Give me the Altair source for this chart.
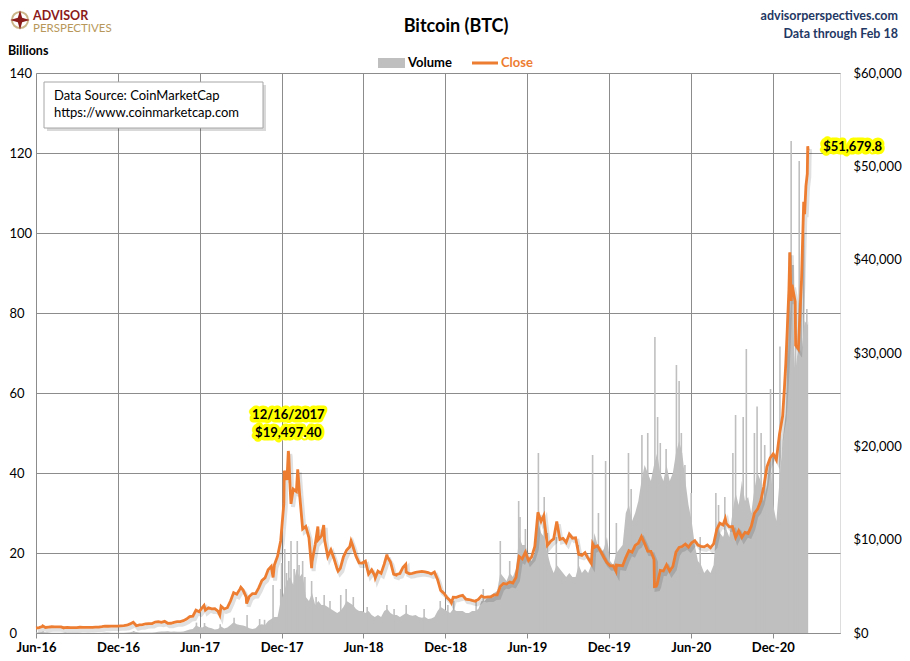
import altair as alt
import pandas as pd

# ---------------- data ----------------
# weekly closes (USD), one value per week starting 2016-06-01
close_2016 = [537, 582, 695, 595, 640, 670, 657, 665, 655, 567, 592, 574, 580, 574, 614, 610,
              597, 605, 612, 637, 630, 678, 742, 722, 744, 740, 742, 767, 780, 834, 975]
close_2017 = [1155, 778, 870, 894, 989, 1010, 1012, 1172, 1222, 1150, 1245, 1040, 1046, 1134, 1215,
              1217, 1317, 1487, 1756, 1806, 2446, 2286, 2719, 2442, 2707, 2585, 2608, 2331, 2871,
              2577, 2710, 3420, 4326, 4152, 4703, 4597, 3870, 3905, 4209, 4225, 4829, 5605, 5905,
              6767, 7144, 7315, 8232, 9888, 13860, 16408, 15561, 15416]
close_2018 = [15156, 14973, 11139, 11425, 10221, 7621, 9494, 10005, 10398, 9951, 8200, 8900, 7960,
              6853, 6926, 8159, 8864, 9243, 9325, 8230, 7505, 7495, 7688, 6315, 6770, 6134, 6619,
              6386, 7379, 8175, 7605, 6305, 6274, 6376, 7047, 6529, 6344, 6398, 6491, 6545, 6596,
              6544, 6478, 6318, 6525, 5738, 4565, 4278, 3790, 3486, 3836, 3822]
close_2019 = [3943, 4036, 3630, 3586, 3486, 3400, 3599, 3974, 3812, 3868, 3866, 4076, 4087, 4975,
              5307, 5237, 5464, 5351, 5950, 8205, 7950, 8660, 7772, 8158, 9273, 12932, 11961, 12100,
              9400, 9800, 10080, 11950, 10030, 10130, 9700, 10600, 10160, 10200, 8430, 8320, 8600,
              8000, 7470, 9180, 9340, 8760, 8120, 7540, 7200, 7220, 7280, 7250]
close_2020 = [7200, 8080, 8820, 8660, 9390, 9620, 10330, 9600, 8780, 8760, 7910, 5230, 6700, 6640,
              7300, 6640, 7120, 8660, 9160, 9270, 9520, 9200, 9670, 9890, 9410, 9290, 9230, 9430,
              9130, 9540, 11100, 11760, 11570, 11750, 11370, 11400, 10240, 10950, 10250, 10780,
              10670, 11430, 12820, 13270, 14130, 15700, 17800, 18730, 19200, 18560, 21310, 23240,
              28840]
close_2021 = [36770, 37320, 35510, 30430, 37620, 44880, 52150]

# extra daily closes at turning points
close_extra_dates = ["2016-06-16", "2016-08-02", "2017-06-11", "2017-07-16", "2017-09-01",
                     "2017-09-14", "2017-11-12", "2017-12-07", "2017-12-16", "2017-12-17",
                     "2017-12-22", "2018-01-06", "2018-02-06", "2018-02-20", "2018-03-05",
                     "2018-04-06", "2018-05-05", "2018-06-28", "2018-07-24", "2018-08-14",
                     "2018-09-04", "2018-12-15", "2019-07-09", "2019-10-26", "2019-12-17",
                     "2020-03-12", "2020-03-16", "2020-08-17", "2020-12-27", "2021-01-02",
                     "2021-01-08", "2021-01-11", "2021-01-21", "2021-02-08", "2021-02-13",
                     "2021-02-16"]
close_extra_values = [766, 547, 2958, 1930, 4892, 3154, 5950, 17390, 19497.4, 19140, 13831, 17527,
                      6955, 11403, 11573, 6636, 9858, 5904, 8404, 6200, 7361, 3237, 12567, 9551,
                      6640, 4971, 5015, 12254, 26272, 32127, 40797, 35567, 30825, 46196, 47911,
                      49200]

last_date = "2021-02-18"
last_close = 51679.8
peak_date = "2017-12-16"
peak_close = 19497.4

# weekly volume (billions USD)
vol_2016 = [0.10, 0.12, 0.25, 0.20, 0.10, 0.08, 0.07, 0.06, 0.07, 0.10, 0.06, 0.05, 0.05, 0.05,
            0.05, 0.05, 0.06, 0.06, 0.06, 0.06, 0.06, 0.08, 0.10, 0.10, 0.09, 0.08, 0.08, 0.08,
            0.09, 0.10, 0.20]
vol_2017 = [0.35, 0.25, 0.15, 0.12, 0.13, 0.15, 0.12, 0.20, 0.30, 0.35, 0.35, 0.45, 0.30, 0.35,
            0.30, 0.30, 0.40, 0.60, 0.90, 1.0, 1.9, 1.5, 1.4, 1.8, 1.4, 1.2, 0.9, 1.0, 1.6, 1.1,
            1.4, 2.0, 2.7, 2.2, 2.0, 1.9, 1.6, 1.2, 1.0, 1.2, 2.0, 2.2, 2.0, 3.0, 3.5, 4.0, 4.0,
            8.0, 10, 13, 14, 12]
vol_2018 = [16, 14, 15, 9, 8, 10, 7, 8, 7, 7, 6.5, 6, 5.5, 5, 5.5, 6.5, 8, 7.5, 7, 6, 5.5, 5.5,
            5, 5.5, 4.5, 4, 4.5, 4, 5.5, 6, 5, 4.5, 4.5, 4, 4.5, 5, 4.5, 4.3, 4.5, 4, 3.8, 4,
            3.5, 3.6, 4, 5.5, 6.5, 6, 5.5, 5, 6, 5.5]
vol_2019 = [5.5, 5.5, 5, 5, 5.5, 5.5, 6, 8, 8, 9, 9.5, 10, 10.5, 15, 14, 13, 15, 14, 16, 24, 22,
            22, 19, 18, 20, 28, 25, 24, 20, 17, 15, 17, 16, 15, 14, 15, 14, 14, 17, 15, 16, 15,
            17, 25, 22, 20, 21, 24, 18, 17, 20, 21]
vol_2020 = [22, 30, 32, 28, 30, 33, 38, 42, 40, 38, 42, 45, 40, 38, 42, 38, 40, 45, 48, 45, 38,
            32, 28, 22, 18, 17, 15, 16, 15, 17, 28, 25, 24, 26, 24, 30, 35, 32, 38, 33, 34, 30,
            36, 40, 38, 33, 37, 45, 32, 28, 38, 48, 55]
vol_2021 = [75, 85, 65, 72, 70, 78, 77]
last_volume = 78

# daily volume spikes
spike_dates = ["2016-06-17", "2017-01-05", "2017-05-25", "2017-06-12", "2017-07-17", "2017-08-17",
               "2017-09-15", "2017-10-13", "2017-10-24", "2017-11-12", "2017-11-29", "2017-12-01",
               "2017-12-08", "2017-12-12", "2017-12-17", "2017-12-22", "2017-12-29", "2018-01-05",
               "2018-01-09", "2018-01-17", "2018-01-22", "2018-02-06", "2018-02-16", "2018-03-06",
               "2018-03-19", "2018-04-12", "2018-04-24", "2018-05-10", "2018-06-10", "2018-07-24",
               "2018-08-09", "2018-09-05", "2018-10-15", "2018-11-20", "2018-12-07", "2018-12-20",
               "2019-02-08", "2019-02-24", "2019-04-03", "2019-04-24", "2019-05-14", "2019-05-17",
               "2019-05-29", "2019-06-27", "2019-07-10", "2019-07-17", "2019-08-06", "2019-09-24",
               "2019-10-26", "2019-11-08", "2019-11-24", "2019-12-18", "2020-01-14", "2020-01-20",
               "2020-02-13", "2020-02-26", "2020-03-13", "2020-03-19", "2020-03-25", "2020-04-07",
               "2020-04-30", "2020-05-06", "2020-05-11", "2020-05-19", "2020-06-02", "2020-06-22",
               "2020-07-27", "2020-08-02", "2020-08-16", "2020-09-03", "2020-09-09", "2020-09-26",
               "2020-10-03", "2020-10-21", "2020-10-27", "2020-11-05", "2020-11-13", "2020-11-26",
               "2020-12-01", "2020-12-17", "2021-01-03", "2021-01-07", "2021-01-11", "2021-01-15",
               "2021-01-21", "2021-01-29", "2021-02-02", "2021-02-08", "2021-02-15"]
spike_values = [0.4, 0.5, 2.6, 2.5, 2.2, 3.8, 4.5, 3.5, 3.3, 12, 11, 17.5, 21, 15, 18, 23, 16, 23,
                17, 18, 14, 13, 9, 9.5, 8, 9.5, 11, 9, 6.5, 7, 6, 7, 6, 8, 7, 8, 8.5, 11, 23, 18,
                33, 29, 26, 45, 34, 25, 24, 22, 44.5, 30, 43, 27.5, 45, 36, 49.5, 50, 74, 54, 47.5,
                46, 67, 63, 50, 42, 35, 24, 35, 32, 34, 45, 54.5, 54, 71, 50, 56.6, 50, 47, 61,
                45, 71.6, 80, 95, 123, 92, 80, 118, 88, 100, 81]

x_tick_dates = [(2016, 6), (2016, 12), (2017, 6), (2017, 12), (2018, 6), (2018, 12),
                (2019, 6), (2019, 12), (2020, 6), (2020, 12)]
vol_ticks = [0, 20, 40, 60, 80, 100, 120, 140]
price_ticks = [0, 10000, 20000, 30000, 40000, 50000, 60000]

# ---------------- tables ----------------
close_weekly = close_2016 + close_2017 + close_2018 + close_2019 + close_2020 + close_2021
vol_weekly = vol_2016 + vol_2017 + vol_2018 + vol_2019 + vol_2020 + vol_2021
weeks = pd.date_range("2016-06-01", periods=len(close_weekly), freq="7D")

close_df = pd.concat([
    pd.DataFrame({"date": weeks, "close": close_weekly}),
    pd.DataFrame({"date": pd.to_datetime(close_extra_dates), "close": close_extra_values}),
    pd.DataFrame({"date": pd.to_datetime([last_date]), "close": [last_close]}),
]).sort_values("date").reset_index(drop=True)

vol_df = pd.concat([
    pd.DataFrame({"date": pd.date_range("2016-06-01", periods=len(vol_weekly), freq="7D"),
                  "volume": vol_weekly}),
    pd.DataFrame({"date": pd.to_datetime([last_date]), "volume": [last_volume]}),
]).sort_values("date").reset_index(drop=True)

spike_df = pd.DataFrame({"date": pd.to_datetime(spike_dates), "volume": spike_values})
peak_df = pd.DataFrame({"date": pd.to_datetime([peak_date]), "close": [peak_close]})
last_df = pd.DataFrame({"date": pd.to_datetime([last_date]), "close": [last_close]})

# ---------------- styling ----------------
FONT = "Lato"
ORANGE = "#ED7D31"
GRAY = "#BFBFBF"
GRID = "#8C8C8C"
NAVY = "#1F3864"

X = alt.X(
    "date:T",
    scale=alt.Scale(domain=[alt.DateTime(year=2016, month=6, date=1),
                            alt.DateTime(year=2021, month=4, date=30)]),
    axis=alt.Axis(values=[alt.DateTime(year=y, month=m, date=1) for y, m in x_tick_dates],
                  format="%b-%y", title=None, grid=True, gridColor=GRID, gridWidth=1,
                  domainColor=GRID, tickColor=GRID, tickSize=5, labelPadding=3,
                  labelFontSize=13, labelFontWeight="bold", labelColor="#000000",
                  labelFlush=False, labelOverlap=False, labelFont=FONT),
)
Y_VOL = alt.Y(
    "volume:Q", scale=alt.Scale(domain=[0, 140], nice=False),
    axis=alt.Axis(orient="left", values=vol_ticks, title=None, grid=True, gridColor=GRID,
                  gridWidth=1, domain=False, ticks=False, labelAlign="left", labelPadding=27,
                  labelFontSize=13, labelColor="#000000", labelFont=FONT),
)
Y_CLOSE = alt.Y(
    "close:Q", scale=alt.Scale(domain=[0, 60000], nice=False),
    axis=alt.Axis(orient="right", values=price_ticks, format="$,.0f", title=None, grid=False,
                  domain=False, ticks=False, labelAlign="left", labelPadding=13,
                  labelFontSize=13, labelColor="#000000", labelFont=FONT),
)

# ---------------- volume group ----------------
vol_area = alt.Chart(vol_df).mark_area(color=GRAY, opacity=1).encode(x=X, y=Y_VOL)
vol_spikes = alt.Chart(spike_df).mark_rule(color=GRAY, strokeWidth=1.6).encode(
    x=X, y=Y_VOL, y2=alt.datum(0))
vol_group = alt.layer(vol_area, vol_spikes)

# ---------------- close group ----------------
shadow = alt.Chart(close_df).mark_line(color="#000000", opacity=0.12, strokeWidth=4,
                                       xOffset=2, yOffset=3).encode(x=X, y=Y_CLOSE)
line = alt.Chart(close_df).mark_line(color=ORANGE, strokeWidth=2.8).encode(x=X, y=Y_CLOSE)


def glow_text(df, text, dy, dx=0, align="center"):
    common = dict(dy=dy, dx=dx, align=align, baseline="middle", fontSize=13,
                  fontWeight="bold", font=FONT)
    g = alt.Chart(df).mark_text(fill="#FFFF00", stroke="#FFFF00", strokeWidth=7,
                                strokeJoin="round", **common).encode(
        x=X, y=Y_CLOSE, text=alt.value(text))
    t = alt.Chart(df).mark_text(color="#000000", **common).encode(
        x=X, y=Y_CLOSE, text=alt.value(text))
    return [g, t]


ann = (glow_text(peak_df, "12/16/2017", -36) + glow_text(peak_df, "$19,497.40", -18)
       + glow_text(last_df, "$51,679.8", -4, dx=15, align="left"))
close_group = alt.layer(shadow, line, *ann)

# ---------------- decorations (pixel positions relative to plot area) ----------------
one = pd.DataFrame({"k": [0]})


def label(text, x, y, align="left", size=13, weight="normal", color="#000000"):
    return alt.Chart(one).mark_text(align=align, baseline="middle", fontSize=size,
                                    fontWeight=weight, color=color, font=FONT).encode(
        x=alt.value(x), y=alt.value(y), text=alt.value(text))


def box(x1, x2, y1, y2, **kw):
    return alt.Chart(one).mark_rect(**kw).encode(
        x=alt.value(x1), x2=alt.value(x2), y=alt.value(y1), y2=alt.value(y2))


star_path = "M0,-1L0.22,-0.22L1,0L0.22,0.22L0,1L-0.22,0.22L-1,0L-0.22,-0.22Z"

decor = [
    label("Bitcoin (BTC)", 420, -46, align="center", size=18, weight="bold"),
    label("advisorperspectives.com", 862, -57, align="right", size=12.5, weight="bold", color=NAVY),
    label("Data through Feb 18", 862, -39, align="right", size=12.5, weight="bold", color=NAVY),
    label("Billions", -28, -22, size=12.5, weight="bold"),
    # legend
    box(342, 369, -15, -5, color=GRAY),
    label("Volume", 372, -10, size=13, weight="bold"),
    alt.Chart(one).mark_rule(color=ORANGE, strokeWidth=3).encode(
        x=alt.value(436), x2=alt.value(462), y=alt.value(-10)),
    label("Close", 465, -10, size=13, weight="bold", color=ORANGE),
    # logo
    alt.Chart(one).mark_point(shape="circle", size=260, filled=False, stroke="#B8975A",
                              strokeWidth=2).encode(x=alt.value(-16), y=alt.value(-53)),
    alt.Chart(one).mark_point(shape=star_path, size=380, filled=True, color="#8B1A1A",
                              opacity=1).encode(x=alt.value(-16), y=alt.value(-53)),
    label("ADVISOR", -3, -57.5, size=12.5, weight="bold", color="#8B1A1A"),
    label("PERSPECTIVES", -3, -44, size=11.5, color="#B8975A"),
    # data source box
    box(11, 230, 12, 58, color="#000000", opacity=0.15),
    box(8, 227, 9, 55, fill="#FFFFFF", stroke="#A6A6A6", strokeWidth=1),
    label("Data Source: CoinMarketCap", 18, 23, size=13),
    label("https://www.coinmarketcap.com", 18, 40, size=13),
]

chart = alt.layer(vol_group, close_group, *decor).resolve_scale(y="independent").properties(
    width=804, height=560,
    autosize=alt.AutoSizeParams(type="none"),
    padding={"left": 28, "top": 65, "right": 62, "bottom": 20},
).configure_view(stroke=None).configure(font=FONT)

chart.save("out.html", embed_options={"renderer": "svg", "actions": False})
